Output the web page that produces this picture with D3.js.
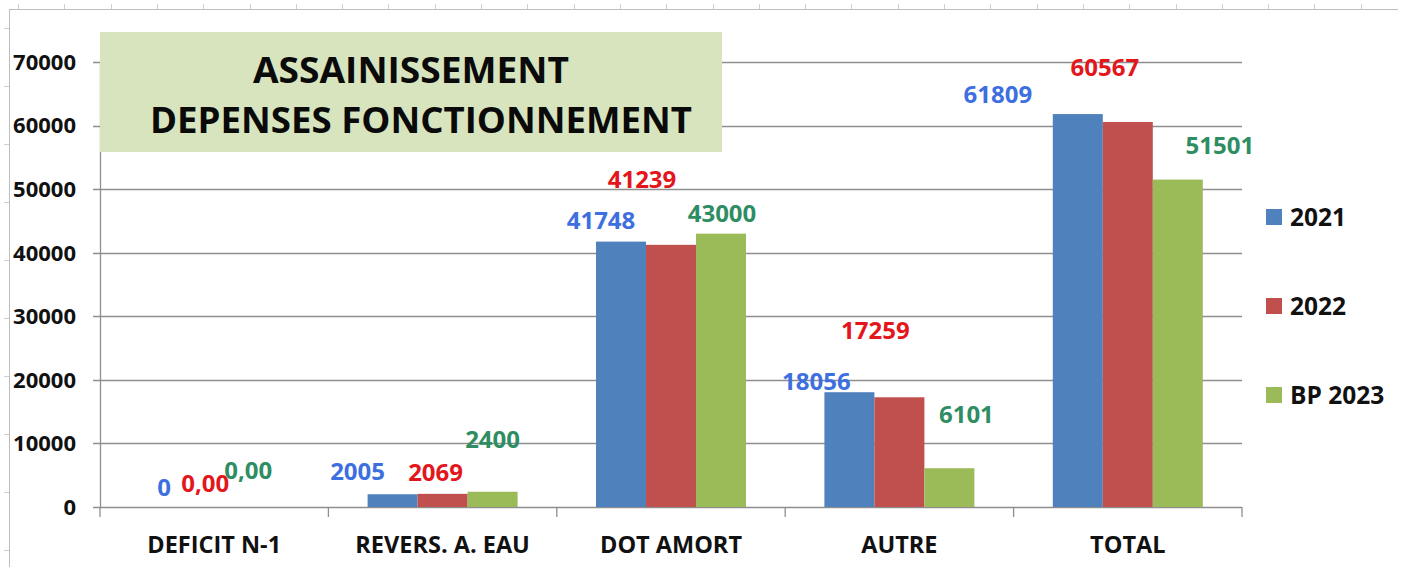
<!DOCTYPE html>
<html>
<head>
<meta charset="utf-8">
<script src="https://cdn.jsdelivr.net/npm/d3@7"></script>
<style>
  html, body { margin: 0; padding: 0; background: #fff; }
  svg { display: block; font-family: "Open Sans", "DejaVu Sans", sans-serif; font-weight: 700; }
</style>
</head>
<body>
<div id="chart"></div>
<script>
// categories and series
var categories = ["DEFICIT N-1", "REVERS. A. EAU", "DOT AMORT", "AUTRE", "TOTAL"];
var seriesNames = ["2021", "2022", "BP 2023"];
var values2021 = [0, 2005, 41748, 18056, 61809];
var values2022 = [0, 2069, 41239, 17259, 60567];
var valuesBP2023 = [0, 2400, 43000, 6101, 51501];
var yTicks = [0, 10000, 20000, 30000, 40000, 50000, 60000, 70000];
var zeroLabels = ["0", "0,00", "0,00"];   // how a zero is written per series
var titleLines = ["ASSAINISSEMENT", "DEPENSES FONCTIONNEMENT"];

// look
var barColors = ["#4f81bd", "#c0504d", "#9bbb59"];
var labelColors = ["#3d6fe0", "#e3161c", "#2e8d62"];

// data labels were dragged by hand in the original, nudges in px from bar top
var labelNudge = [
  [[0, -20], [-9, -24], [-16, -37]],
  [[-35, -23], [-7, -21], [0, -52]],
  [[-20, -21], [-29, -65], [1, -20]],
  [[-33, -11], [-24, -67], [17, -54]],
  [[-80, -20], [-23, -55], [42, -34]]
];

var width = 1408, height = 567;
var margin = {top: 62, right: 166, bottom: 60, left: 100};

var svg = d3.select("#chart").append("svg")
    .attr("width", width)
    .attr("height", height);

// sheet frame with ruler ticks
var frame = svg.append("g").attr("stroke", "#bdbdbd").attr("fill", "none");
frame.append("line").attr("x1", 9).attr("x2", 1398).attr("y1", 9.5).attr("y2", 9.5);
frame.append("line").attr("x1", 9.5).attr("x2", 9.5).attr("y1", 9).attr("y2", height);
d3.range(18, 1398, 46.3).forEach(function(x) {
  frame.append("line").attr("x1", Math.round(x) + 0.5).attr("x2", Math.round(x) + 0.5)
    .attr("y1", 4).attr("y2", 9).attr("stroke", "#d0d0d0");
});
d3.range(28, height, 58).forEach(function(y) {
  frame.append("line").attr("y1", Math.round(y) + 0.5).attr("y2", Math.round(y) + 0.5)
    .attr("x1", 4).attr("x2", 9).attr("stroke", "#d0d0d0");
});

var x0 = d3.scaleBand()
    .domain(categories)
    .range([margin.left, width - margin.right])
    .paddingInner(0)
    .paddingOuter(0);

var x1 = d3.scaleBand()
    .domain(d3.range(seriesNames.length))
    .range([0, x0.bandwidth()])
    .paddingOuter(0.784)
    .paddingInner(0);

var y = d3.scaleLinear()
    .domain([0, 70000])
    .range([height - margin.bottom, margin.top]);

var plotRight = width - margin.right;

// gridlines
svg.append("g").selectAll("line")
  .data(yTicks)
  .join("line")
    .attr("x1", margin.left - 7)
    .attr("x2", plotRight)
    .attr("y1", function(d) { return Math.round(y(d)) + 0.5; })
    .attr("y2", function(d) { return Math.round(y(d)) + 0.5; })
    .attr("stroke", "#8e8e8e")
    .attr("stroke-width", 1.3);

// y axis line
svg.append("line")
    .attr("x1", margin.left + 0.5).attr("x2", margin.left + 0.5)
    .attr("y1", y(70000)).attr("y2", y(0))
    .attr("stroke", "#8e8e8e").attr("stroke-width", 1.3);

// category ticks
svg.append("g").selectAll("line")
  .data(categories.concat(["end"]))
  .join("line")
    .attr("x1", function(d, i) { return i < categories.length ? x0(d) : plotRight; })
    .attr("x2", function(d, i) { return i < categories.length ? x0(d) : plotRight; })
    .attr("y1", y(0)).attr("y2", y(0) + 10)
    .attr("stroke", "#8e8e8e").attr("stroke-width", 1.3);

// y tick labels
svg.append("g").selectAll("text")
  .data(yTicks)
  .join("text")
    .attr("x", 76)
    .attr("y", function(d) { return y(d); })
    .attr("dy", "0.36em")
    .attr("text-anchor", "end")
    .attr("font-size", 22)
    .attr("fill", "#111")
    .text(function(d) { return d; });

// category labels
svg.append("g").selectAll("text")
  .data(categories)
  .join("text")
    .attr("x", function(d) { return x0(d) + x0.bandwidth() / 2; })
    .attr("y", 553)
    .attr("text-anchor", "middle")
    .attr("font-size", 23.5)
    .attr("fill", "#111")
    .text(function(d) { return d; });

// bars
var allSeries = [values2021, values2022, valuesBP2023];
var rows = [];
categories.forEach(function(c, ci) {
  allSeries.forEach(function(vals, si) {
    rows.push({cat: c, ci: ci, si: si, value: vals[ci]});
  });
});

svg.append("g").selectAll("rect")
  .data(rows)
  .join("rect")
    .attr("x", function(d) { return x0(d.cat) + x1(d.si); })
    .attr("width", x1.bandwidth())
    .attr("y", function(d) { return y(d.value); })
    .attr("height", function(d) { return y(0) - y(d.value); })
    .attr("fill", function(d) { return barColors[d.si]; });

// data labels
svg.append("g").selectAll("text")
  .data(rows)
  .join("text")
    .attr("x", function(d) { return x0(d.cat) + x1(d.si) + x1.bandwidth() / 2 + labelNudge[d.ci][d.si][0]; })
    .attr("y", function(d) { return y(d.value) + labelNudge[d.ci][d.si][1]; })
    .attr("dy", "0.36em")
    .attr("text-anchor", "middle")
    .attr("font-size", 24)
    .attr("fill", function(d) { return labelColors[d.si]; })
    .text(function(d) { return d.value === 0 ? zeroLabels[d.si] : d.value; });

// title box
var tb = svg.append("g");
tb.append("rect")
    .attr("x", 100).attr("y", 32)
    .attr("width", 622).attr("height", 120)
    .attr("fill", "#d7e4bd");
tb.append("text")
    .attr("x", 411).attr("y", 83)
    .attr("text-anchor", "middle")
    .attr("font-size", 35)
    .attr("fill", "#0a0a0a")
    .attr("textLength", 316).attr("lengthAdjust", "spacingAndGlyphs")
    .text(titleLines[0]);
tb.append("text")
    .attr("x", 421).attr("y", 133)
    .attr("text-anchor", "middle")
    .attr("font-size", 35)
    .attr("fill", "#0a0a0a")
    .attr("textLength", 542).attr("lengthAdjust", "spacingAndGlyphs")
    .text(titleLines[1]);

// legend
var legend = svg.append("g").selectAll("g")
  .data(seriesNames)
  .join("g")
    .attr("transform", function(d, i) { return "translate(1266," + (217 + i * 89) + ")"; });
legend.append("rect")
    .attr("x", 0).attr("y", -8)
    .attr("width", 16).attr("height", 16)
    .attr("fill", function(d, i) { return barColors[i]; });
legend.append("text")
    .attr("x", 24).attr("y", 0)
    .attr("dy", "0.36em")
    .attr("font-size", 24.5)
    .attr("fill", "#111")
    .text(function(d) { return d; });
</script>
</body>
</html>
